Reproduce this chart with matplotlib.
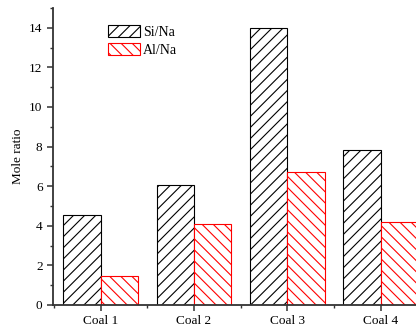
import numpy as np
import matplotlib.pyplot as plt
from matplotlib.ticker import MultipleLocator

plt.rcParams['font.family'] = ['Liberation Serif', 'DejaVu Serif']
plt.rcParams['hatch.linewidth'] = 0.8

coals = ['Coal 1', 'Coal 2', 'Coal 3', 'Coal 4']
si_na = [4.55, 6.05, 14.0, 7.8]
al_na = [1.45, 4.1, 6.7, 4.2]

x = np.arange(len(coals))
w = 0.4

fig = plt.figure(figsize=(4.16, 3.29), dpi=100)
ax = fig.add_axes([0.1274, 0.073, 0.9, 0.903])

ax.bar(x - w/2, si_na, w, facecolor='white', edgecolor='black', hatch='///',
       linewidth=0.8, label='Si/Na')
ax.bar(x + w/2, al_na, w, facecolor='white', edgecolor='red', hatch='\\\\\\',
       linewidth=0.8, label='Al/Na')

ax.set_xlim(-0.51, 3.5)
ax.set_ylim(0, 15)
ax.set_xticks(x)
ax.set_xticklabels(coals)
ax.xaxis.set_minor_locator(MultipleLocator(0.5))
ax.yaxis.set_major_locator(MultipleLocator(2))
ax.yaxis.set_minor_locator(MultipleLocator(1))
ax.set_ylabel('Mole ratio', fontsize=9.5)

for s in ['top', 'right']:
    ax.spines[s].set_visible(False)
for s in ['left', 'bottom']:
    ax.spines[s].set_linewidth(1.3)
    ax.spines[s].set_color('#333333')
ax.tick_params(which='both', direction='out', colors='#333333', labelsize=9.5,
               labelcolor='black')
ax.tick_params(which='major', length=4, width=1.1)
ax.tick_params(which='minor', length=2.5, width=1.0)

ax.legend(loc='upper left', bbox_to_anchor=(0.113, 0.985), frameon=False,
          fontsize=10, handlelength=2.3, handleheight=1.0, handletextpad=0.25,
          labelspacing=0.3)

fig.savefig('out.png', dpi=100)
